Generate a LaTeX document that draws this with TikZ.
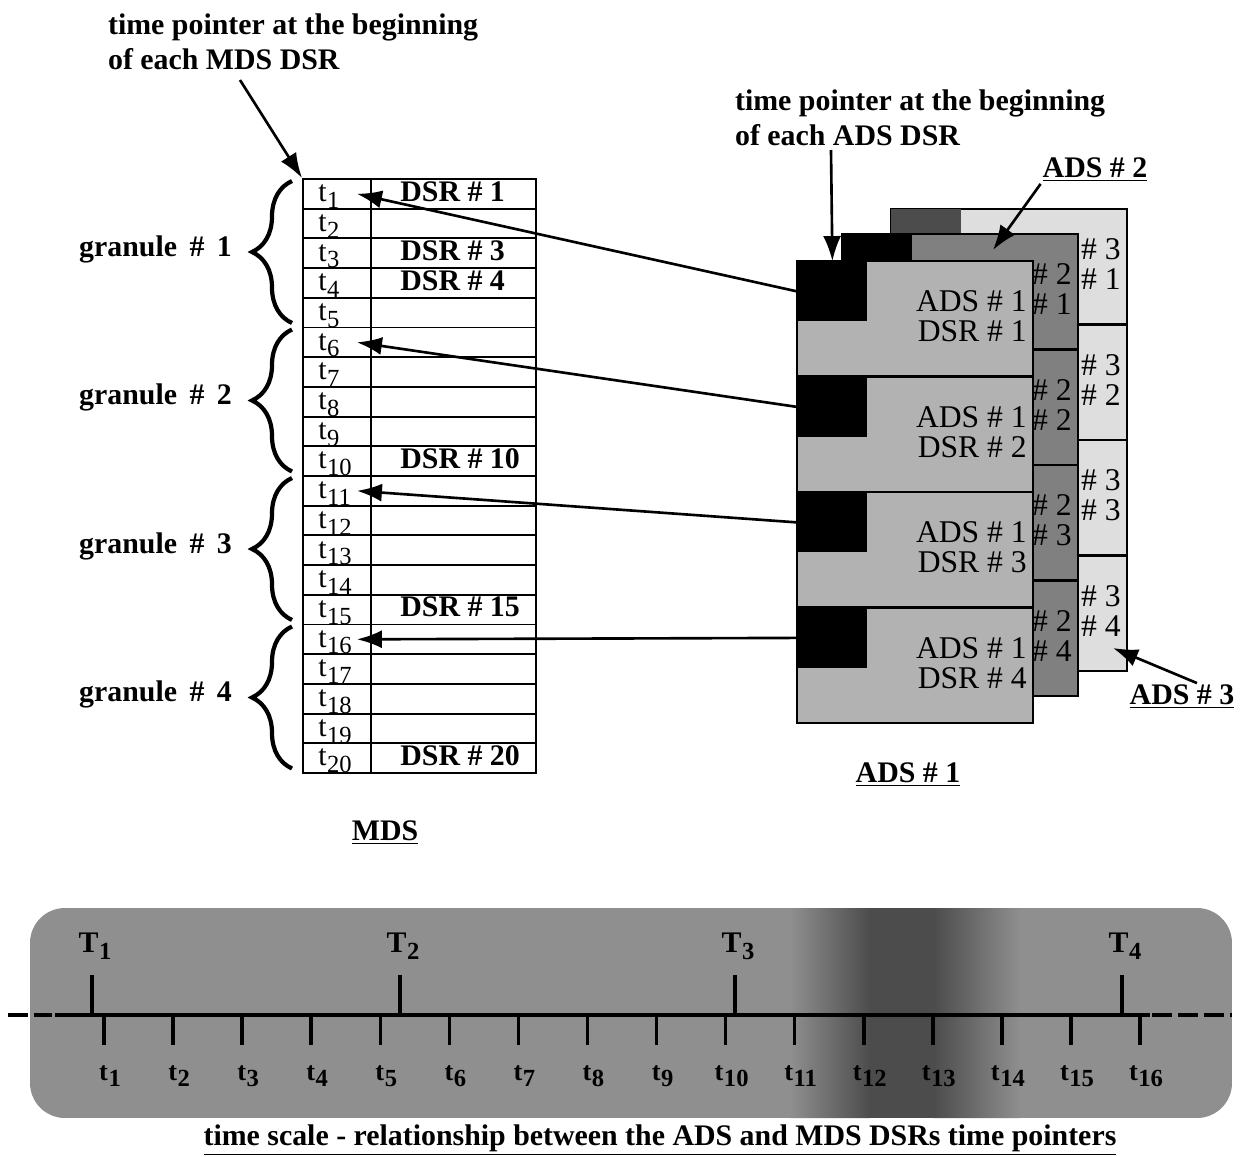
\documentclass[tikz,border=0pt]{standalone}
\usepackage{fontspec}
\setmainfont{Liberation Serif}
\usetikzlibrary{positioning, arrows.meta, decorations.pathreplacing}

\definecolor{adsone}{gray}{0.70}
\definecolor{adstwo}{gray}{0.50}
\definecolor{adsthree}{gray}{0.87}
\definecolor{adsthreesq}{gray}{0.30}
\definecolor{band}{gray}{0.56}
\definecolor{banddark}{gray}{0.30}

\newcommand{\subl}[2]{#1\kern.3pt\raisebox{-.5ex}{\fontsize{14}{14}\selectfont #2}}

\begin{document}
\begin{tikzpicture}[
    x=0.02cm, y=-0.02cm,
    txt/.style={font=\fontsize{17}{20}\selectfont\bfseries, inner sep=1pt},
    note/.style={txt, align=left, anchor=west},
    tcell/.style={draw, line width=1.1pt, fill=white, minimum width=1.36cm, minimum height=0.594cm, inner sep=0pt, anchor=north west},
    dcell/.style={tcell, minimum width=3.3cm},
    tlab/.style={font=\fontsize{17}{17}\selectfont, anchor=base west, inner sep=0pt},
    dsrlab/.style={txt, anchor=base west, inner sep=0pt},
    adsrow/.style={draw, line width=1.2pt, minimum width=4.72cm, minimum height=2.31cm, inner sep=0pt, anchor=north west},
    blacksq/.style={minimum width=1.4cm, minimum height=1.2cm, inner sep=0pt, anchor=north west},
    adstext/.style={font=\fontsize{18}{17}\selectfont, align=right, anchor=east, inner sep=0pt},
    ptr/.style={-{Latex[length=5mm, width=3.6mm]}, line width=1.5pt},
    brc/.style={decorate, decoration={brace, amplitude=0.8cm}, line width=2.4pt},
    axis/.style={line width=2pt}
]
\useasboundingbox (0,0) rectangle (1249,1157);

% MDS table
\foreach \i in {1,...,20} {
  \node[tcell] (tc\i) at (302, {178+29.7*(\i-1)}) {};
  \node[dcell] (dc\i) at (370, {178+29.7*(\i-1)}) {};
  \node[tlab] (tl\i) at ([xshift=0.32cm, yshift=0.16cm]tc\i.south west) {\subl{t}{\i}};
}
\foreach \i in {1,3,4,10,15,20}
  \node[dsrlab] (dl\i) at ([xshift=0.6cm, yshift=0.17cm]dc\i.south west) {DSR \# \i};

% granules
\foreach \g in {1,...,4} {
  \pgfmathsetmacro\gtop{178+148.5*(\g-1)+3}
  \pgfmathsetmacro\gbot{\gtop+142}
  \draw[brc] (292,\gbot) -- (292,\gtop);
  \node[txt, anchor=east] (gr\g) at (234, {(\gtop+\gbot)/2-3}) {granule \,\#\, \g};
}

\node[note] (mdsptr) at (106,42) {time pointer at the beginning\\ of each MDS DSR};
\coordinate (mdsfrom) at (240,80);
\draw[ptr] (mdsfrom) -- (tc1.north west);
\node[txt] (mds) at (385,833) {\underline{MDS}};

% ADS stack, back to front (only the visible ends of #2, #3 are labelled)
\foreach \p/\dx/\up/\col/\sq in {3/94/52/adsthree/adsthreesq, 2/45/27/adstwo/black, 1/0/0/adsone/black} {
  \foreach \r in {1,...,4} {
    \node[adsrow, fill=\col] (ads\p-\r) at (796+\dx, {260-\up+115.5*(\r-1)}) {};
    \node[blacksq, fill=\sq] (sq\p-\r) at ([shift={(0.6pt,-0.6pt)}]ads\p-\r.north west) {};
    \node[adstext] (at\p-\r) at ([xshift=-0.14cm, yshift=0.05cm]ads\p-\r.east)
      {\ifnum\p=1 ADS \fi\# \p\\\ifnum\p=1 DSR \fi\# \r};
  }
}

\node[note] (adsptr) at (733,118) {time pointer at the beginning\\ of each ADS DSR};
\coordinate (adsfrom) at (831,150);
\draw[ptr] (adsfrom) -- (sq1-1.north);

\node[txt] (lab2) at (1095,170) {\underline{ADS \# 2}};
\coordinate (tip2) at (993,250);
\draw[ptr] (lab2.south west) -- (tip2);

\node[txt] (lab3) at (1182,697) {\underline{ADS \# 3}};
\coordinate (tip3) at (1113,648);
\draw[ptr] ([xshift=0.3cm]lab3.north) -- (tip3);

\node[txt] (lab1) at (908,775) {\underline{ADS \# 1}};

% pointers ADS -> MDS
\foreach \r/\t in {1/1, 2/6, 3/11, 4/16}
  \draw[ptr] (sq1-\r.west) -- ([xshift=-0.3cm]tc\t.east);

% time scale
\begin{scope}
  \clip[rounded corners=0.7cm] (30,908) rectangle (1232,1118);
  \fill[band] (30,908) rectangle (1232,1118);
  \shade[left color=band, right color=banddark] (790,908) rectangle (870,1118);
  \fill[banddark] (869,908) rectangle (935,1118);
  \shade[left color=banddark, right color=band] (934,908) rectangle (1020,1118);
\end{scope}

\draw[axis] (55,1015) -- (1150,1015);
\draw[axis, dash pattern=on 0.4cm off 0.12cm] (8,1015) -- (52,1015);
\draw[axis, dash pattern=on 0.4cm off 0.12cm] (1152,1015) -- (1232,1015);

\foreach \x/\k in {92/1, 400/2, 735/3, 1122/4} {
  \draw[axis] (\x,1015) -- (\x,975);
  \node[txt] (T\k) at (\x+3,946) {\subl{T}{\k}};
}
\foreach \i in {1,...,16} {
  \pgfmathsetmacro\xx{104+69.07*(\i-1)}
  \draw[axis] (\xx,1015) -- (\xx,1045);
  \node[txt, font=\fontsize{15}{15}\selectfont\bfseries] (tt\i) at (\xx+6,1076) {\subl{t}{\i}};
}

\node[txt] (caption) at (660,1140) {\underline{time scale - relationship between the ADS and MDS DSRs time pointers}};

\end{tikzpicture}
\end{document}
